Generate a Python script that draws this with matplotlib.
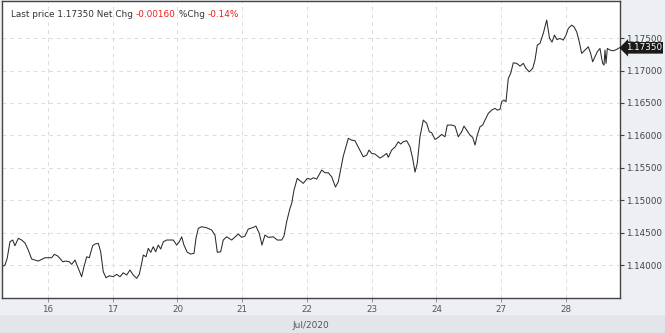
import matplotlib.pyplot as plt
from matplotlib.patches import Rectangle

# x is in trading days: 1 = Jul 16, 2 = Jul 17, 3 = Jul 20, ...
day_pos = [1, 2, 3, 4, 5, 6, 7, 8, 9]
day_labels = ["16", "17", "20", "21", "22", "23", "24", "27", "28"]

t = [0.285, 0.336, 0.371, 0.413, 0.455, 0.490, 0.541, 0.594, 0.645, 0.696,
     0.748, 0.799, 0.850, 0.903, 0.954, 1.005, 1.057, 1.097, 1.144, 1.185,
     1.227, 1.278, 1.329, 1.366, 1.417, 1.468, 1.520, 1.556, 1.598, 1.638,
     1.690, 1.726, 1.777, 1.814, 1.854, 1.896, 1.947, 2.008, 2.061, 2.112,
     2.163, 2.215, 2.266, 2.317, 2.370, 2.410, 2.447, 2.472, 2.514, 2.549,
     2.586, 2.626, 2.663, 2.703, 2.741, 2.781, 2.833, 2.884, 2.935, 2.988,
     3.028, 3.065, 3.100, 3.151, 3.204, 3.255, 3.286, 3.321, 3.374, 3.451,
     3.528, 3.579, 3.615, 3.667, 3.707, 3.760, 3.837, 3.939, 3.992, 4.042,
     4.093, 4.171, 4.212, 4.263, 4.305, 4.351, 4.402, 4.480, 4.541, 4.609,
     4.645, 4.686, 4.737, 4.764, 4.799, 4.850, 4.892, 4.943, 5.005, 5.057,
     5.097, 5.150, 5.227, 5.278, 5.329, 5.381, 5.440, 5.483, 5.561, 5.638,
     5.690, 5.741, 5.792, 5.869, 5.922, 5.958, 5.999, 6.050, 6.127, 6.178,
     6.231, 6.256, 6.308, 6.359, 6.410, 6.447, 6.487, 6.540, 6.591, 6.632,
     6.668, 6.703, 6.745, 6.796, 6.849, 6.889, 6.926, 6.977, 7.028, 7.080,
     7.131, 7.167, 7.235, 7.286, 7.337, 7.389, 7.425, 7.466, 7.517, 7.559,
     7.595, 7.630, 7.672, 7.713, 7.749, 7.800, 7.853, 7.903, 7.939, 7.981,
     8.007, 8.042, 8.073, 8.109, 8.146, 8.186, 8.239, 8.290, 8.341, 8.382,
     8.433, 8.486, 8.521, 8.557, 8.598, 8.649, 8.702, 8.745, 8.784, 8.822,
     8.861, 8.907, 8.958, 9.000, 9.036, 9.088, 9.124, 9.165, 9.205, 9.242,
     9.293, 9.344, 9.381, 9.412, 9.448, 9.483, 9.525, 9.551, 9.567, 9.587,
     9.602, 9.618, 9.638, 9.680, 9.730, 9.783, 9.823]

price = [1.13974, 1.14000, 1.14108, 1.14359, 1.14386, 1.14298, 1.14412, 1.14386, 1.14339, 1.14231,
         1.14093, 1.14077, 1.14062, 1.14088, 1.14113, 1.14113, 1.14113, 1.14165, 1.14144, 1.14103,
         1.14051, 1.14062, 1.14051, 1.14011, 1.14077, 1.13949, 1.13820, 1.13974, 1.14128, 1.14113,
         1.14298, 1.14324, 1.14335, 1.14205, 1.13897, 1.13804, 1.13835, 1.13820, 1.13857, 1.13820,
         1.13881, 1.13846, 1.13923, 1.13846, 1.13795, 1.13857, 1.14026, 1.14154, 1.14128, 1.14258,
         1.14196, 1.14282, 1.14205, 1.14308, 1.14247, 1.14359, 1.14386, 1.14386, 1.14386, 1.14308,
         1.14359, 1.14436, 1.14308, 1.14196, 1.14170, 1.14181, 1.14412, 1.14566, 1.14591, 1.14575,
         1.14540, 1.14463, 1.14196, 1.14205, 1.14386, 1.14436, 1.14386, 1.14478, 1.14427, 1.14447,
         1.14555, 1.14581, 1.14601, 1.14489, 1.14308, 1.14463, 1.14427, 1.14436, 1.14386, 1.14386,
         1.14447, 1.14668, 1.14874, 1.14951, 1.15156, 1.15337, 1.15300, 1.15260, 1.15337, 1.15321,
         1.15346, 1.15326, 1.15465, 1.15423, 1.15423, 1.15362, 1.15203, 1.15284, 1.15681, 1.15954,
         1.15927, 1.15917, 1.15819, 1.15670, 1.15696, 1.15773, 1.15722, 1.15712, 1.15650, 1.15681,
         1.15722, 1.15661, 1.15773, 1.15819, 1.15901, 1.15866, 1.15901, 1.15917, 1.15824, 1.15645,
         1.15434, 1.15568, 1.15978, 1.16236, 1.16185, 1.16055, 1.16040, 1.15938, 1.15969, 1.16015,
         1.15978, 1.16159, 1.16159, 1.16143, 1.15978, 1.16055, 1.16143, 1.16082, 1.16004, 1.15969,
         1.15850, 1.16004, 1.16132, 1.16159, 1.16236, 1.16339, 1.16390, 1.16416, 1.16390, 1.16401,
         1.16518, 1.16544, 1.16518, 1.16879, 1.16956, 1.17119, 1.17110, 1.17068, 1.17110, 1.17033,
         1.16980, 1.17033, 1.17161, 1.17392, 1.17418, 1.17572, 1.17778, 1.17500, 1.17438, 1.17546,
         1.17477, 1.17495, 1.17469, 1.17546, 1.17650, 1.17700, 1.17674, 1.17597, 1.17443, 1.17264,
         1.17315, 1.17366, 1.17264, 1.17135, 1.17212, 1.17289, 1.17341, 1.17187, 1.17110, 1.17084,
         1.17315, 1.17110, 1.17341, 1.17315, 1.17304, 1.17326, 1.17350]

y_ticks = [1.140, 1.145, 1.150, 1.155, 1.160, 1.165, 1.170, 1.175]
last_price = 1.17350
net_chg = "-0.00160"
pct_chg = "-0.14%"

bg = "#eceff3"
fig = plt.figure(figsize=(6.65, 3.33), dpi=100, facecolor=bg)
# darker band behind the month label
fig.patches.append(Rectangle((0, 0), 1, 18 / 333, transform=fig.transFigure,
                             facecolor="#e2e6eb", edgecolor="none", zorder=0))

ax = fig.add_axes([2 / 665, 35 / 333, 618 / 665, 297 / 333])
ax.set_facecolor("white")
ax.plot(t, price, color="#2b2b2b", linewidth=0.75)

ax.set_xlim(0.290, 9.834)
ax.set_ylim(1.13492, 1.18072)

ax.set_xticks(day_pos)
ax.set_xticklabels(day_labels)
ax.set_yticks(y_ticks)
ax.set_yticklabels([f"{v:.5f}" for v in y_ticks])
ax.yaxis.tick_right()
ax.tick_params(axis="y", length=3, width=0.8, color="#444444", labelsize=6.3,
               labelcolor="#444444", pad=1)
ax.tick_params(axis="x", length=3, width=0.6, color="#888888", labelsize=6.3,
               labelcolor="#555555", pad=2)

# month label sits in the bottom band
fig.text(311 / 665, 1 - 325 / 333, "Jul/2020", fontsize=6.5, color="#555555",
         ha="center", va="center")

ax.grid(True, color="#dcdcdc", linestyle=(0, (4, 4)), linewidth=0.7)
for side in ax.spines:
    ax.spines[side].set_color("#444444")
    ax.spines[side].set_linewidth(1.0)

# header line with coloured pieces
t1 = ax.text(0.015, 0.955, f"Last price {last_price:.5f} Net Chg ", transform=ax.transAxes,
             fontsize=6.4, color="#333333", va="center", ha="left")
t2 = ax.annotate(net_chg, xycoords=t1, xy=(1, 0), va="bottom", fontsize=6.4, color="#e8221c")
t3 = ax.annotate(" %Chg ", xycoords=t2, xy=(1, 0), va="bottom", fontsize=6.4, color="#333333")
ax.annotate(pct_chg, xycoords=t3, xy=(1, 0), va="bottom", fontsize=6.4, color="#e8221c")

# last price marker on the right axis
ax.annotate(f"{last_price:.5f}", xy=(1, last_price), xycoords=("axes fraction", "data"),
            xytext=(4, 0), textcoords="offset points", va="center", ha="left",
            fontsize=6.3, color="white", annotation_clip=False,
            bbox=dict(boxstyle="larrow,pad=0.15", facecolor="#1a1a1a", edgecolor="none"))

fig.savefig("out.png", dpi=100, facecolor=bg)
